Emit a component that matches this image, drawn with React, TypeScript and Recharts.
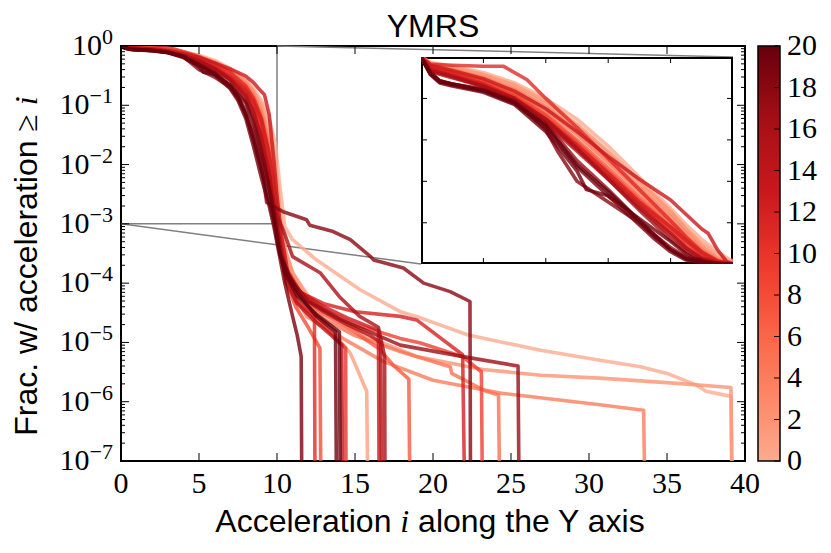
import React from 'react';
import { LineChart, Line, XAxis, YAxis, ReferenceArea, ReferenceLine } from 'recharts';

// ---------- layout ----------
const W = 831, H = 553;
const PL = 121, PR = 745, PT = 46, PB = 461;
const INSET = { left: 421, top: 57, width: 312, height: 207 };
const CBAR = { left: 758, top: 46, width: 22, height: 415 };

// ---------- ticks / labels ----------
const X_TICKS = [0, 5, 10, 15, 20, 25, 30, 35, 40];
const Y_EXPONENTS = [-7, -6, -5, -4, -3, -2, -1, 0];
const Y_MINOR_MULTS = [2, 3, 4, 5, 6, 7, 8, 9];
const CBAR_TICKS = [0, 2, 4, 6, 8, 10, 12, 14, 16, 18, 20];
const INSET_X_DOMAIN = [0, 10];
const INSET_Y_DOMAIN = [0.001, 1];
const INSET_X_TICKS = [2, 4, 6, 8];
const INSET_Y_TICKS = [0.2, 0.4, 0.6, 0.8];
const TITLE = 'YMRS';

// ---------- data: [acceleration, fraction] ----------
type P = [number, number];
const CURVE_VALUES = [0, 1, 2, 4, 5, 7, 8, 9, 10, 11, 12, 13, 14, 15, 16, 17, 18, 19, 19.5, 20];

const c00: P[] = [[0,1],[0.3,.975],[1,.955],[2,.925],[3,.875],[4,.80],[5,.70],[6,.57],[7,.42],[8,.27],[8.5,.19],[9,.12],[9.5,.06],[9.9,.022],[10.2,.004],[10.5,9e-4],[11,5.4e-4],[12.5,2.5e-4],[15.3,7.8e-5],[17.9,3.3e-5],[19.2,2.6e-5],[22.2,1.35e-5],[24.5,1e-5],[26.9,7.4e-6],[30.7,5e-6],[33.3,3.9e-6],[35,3e-6],[36.9,1.9e-6],[37.5,1.5e-6],[39.1,1.23e-6],[39.15,1e-7]];
const c01: P[] = [[0,1],[0.3,.97],[1,.945],[2,.91],[3,.855],[4,.775],[5,.665],[6,.535],[7,.39],[8,.25],[8.5,.17],[9,.10],[9.5,.045],[9.9,.012],[10.2,1.5e-3],[10.5,4e-4],[11,1.5e-4],[12,5e-5],[13,2e-5],[13.8,1.25e-5],[14.7,6.6e-6],[15.75,1.5e-6],[15.8,1e-7]];
const c02: P[] = [[0,1],[0.3,.97],[1,.95],[2,.915],[3,.865],[4,.785],[5,.675],[6,.545],[7,.40],[8,.255],[8.5,.17],[9,.09],[9.5,.03],[9.9,.006],[10.2,1e-3],[10.6,3e-4],[11,1.5e-4],[12,6e-5],[13.2,3.5e-5],[15.75,1.26e-5],[18.95,5.8e-6],[23.2,3.5e-6],[26.9,2.8e-6],[30.7,2.5e-6],[35,2.1e-6],[39.1,1.74e-6],[39.15,1e-7]];
const c04: P[] = [[0,1],[0.3,.965],[1,.94],[2,.90],[3,.845],[4,.76],[5,.645],[6,.51],[7,.37],[8,.23],[8.5,.15],[9,.075],[9.5,.025],[9.9,.004],[10.2,8e-4],[10.6,2e-4],[11.2,6e-5],[11.9,2.75e-5],[13.6,1.45e-5],[16.8,4.8e-6],[20,2.3e-6],[24.3,1.4e-6],[28.1,1.07e-6],[30.7,8.9e-7],[33.5,7.2e-7],[33.55,1e-7]];
const c05: P[] = [[0,1],[0.3,.96],[1,.935],[2,.89],[3,.83],[4,.745],[5,.625],[6,.49],[7,.35],[8,.21],[8.5,.135],[9,.065],[9.5,.02],[9.9,.003],[10.2,6e-4],[10.5,2e-4],[11.5,6e-5],[13,2.5e-5],[15,1.3e-5],[17.9,7e-6],[21.1,3.9e-6],[21.2,3e-6],[23.4,1.5e-6],[24.2,1.3e-6],[24.25,1e-7]];
const c07: P[] = [[0,1],[0.3,.955],[1,.93],[2,.885],[3,.82],[4,.725],[5,.60],[6,.465],[7,.325],[8,.195],[8.5,.125],[9,.06],[9.5,.017],[9.9,.003],[10.2,5e-4],[10.6,1.5e-4],[11.5,6e-5],[13,3e-5],[15,1.5e-5],[16.5,8e-6],[17.5,4e-6],[18.45,2.4e-6],[18.5,1e-7]];
const c08: P[] = [[0,1],[0.3,.95],[1,.925],[2,.88],[3,.815],[4,.72],[5,.59],[6,.45],[7,.31],[8,.18],[8.5,.11],[9,.05],[9.5,.012],[9.9,.002],[10.2,4e-4],[10.6,1e-4],[11.2,4e-5],[12,1.8e-5],[12.75,8e-6],[12.8,1e-7]];
const c09: P[] = [[0,1],[0.3,.95],[1,.92],[2,.875],[3,.81],[4,.71],[5,.58],[6,.44],[7,.30],[8,.175],[8.5,.11],[9,.05],[9.5,.013],[9.9,.0025],[10.2,5e-4],[10.5,2e-4],[11.5,7e-5],[13,3.5e-5],[15,2e-5],[17.9,1.17e-5],[19.2,9.8e-6],[21.9,5.75e-6],[23.1,3.2e-6],[23.15,1e-7]];
const c10: P[] = [[0,1],[0.3,.945],[1,.92],[2,.87],[3,.80],[4,.70],[5,.57],[6,.43],[7,.29],[8,.16],[8.5,.09],[9,.035],[9.5,.009],[9.9,.002],[10.2,4e-4],[10.6,1.2e-4],[11.3,5e-5],[12.5,2.5e-5],[13.5,1.4e-5],[14.4,8e-6],[14.42,1e-7]];
const c11: P[] = [[0,1],[0.3,.965],[1,.96],[2,.955],[2.65,.955],[3.4,.89],[4,.80],[5,.66],[6,.51],[7,.36],[8,.21],[8.5,.13],[9,.06],[9.5,.014],[9.9,.002],[10.2,4e-4],[10.6,1.2e-4],[11.2,5e-5],[12.4,2.7e-5],[12.43,1e-7]];
const c12: P[] = [[0,1],[0.3,.945],[1,.915],[2,.87],[3,.80],[4,.70],[5,.575],[6,.44],[7,.30],[8,.18],[8.5,.115],[9,.055],[9.5,.015],[9.9,.003],[10.2,6e-4],[10.5,1.5e-4],[11.5,7e-5],[13,4.5e-5],[15,3.3e-5],[17.9,2.75e-5],[18.95,2.4e-5],[21.9,6.2e-6],[22.0,1e-7]];
const c13: P[] = [[0,1],[0.3,.96],[1,.935],[2,.895],[3,.835],[4,.75],[5,.64],[6,.52],[7,.41],[8,.31],[8.5,.24],[9,.17],[9.2,.15],[9.5,.07],[9.8,.012],[10,.003],[10.3,6e-4],[10.7,1.5e-4],[11.5,7e-5],[13,4e-5],[14.5,2.6e-5],[16.5,1.6e-5],[16.54,1e-7]];
const c14: P[] = [[0,1],[0.3,.94],[1,.91],[2,.86],[3,.79],[4,.69],[5,.555],[6,.42],[7,.28],[8,.15],[8.5,.08],[9,.03],[9.5,.007],[9.9,.0015],[10.2,3.5e-4],[10.6,1e-4],[11.3,4.5e-5],[12.5,2.2e-5],[13.5,1.3e-5],[14.15,9e-6],[14.2,1e-7]];
const c15: P[] = [[0,1],[0.3,.935],[1,.905],[2,.855],[3,.785],[4,.68],[5,.545],[6,.41],[7,.27],[8,.14],[8.5,.075],[9,.028],[9.5,.007],[9.9,.0015],[10.2,4e-4],[10.6,1.3e-4],[11.5,6e-5],[13,3.3e-5],[14.5,2e-5],[16,1.3e-5],[16.65,1e-5],[16.7,1e-7]];
const c16: P[] = [[0,1],[0.3,.93],[1,.90],[2,.86],[3,.80],[4,.70],[5,.56],[6,.41],[7,.26],[8,.12],[8.5,.06],[9,.02],[9.5,.005],[9.8,.0018],[10.4,7.9e-4],[11,2.8e-4],[12.76,1.5e-4],[14,5.9e-5],[15.3,2.75e-5],[16.5,1.8e-5],[16.9,5.8e-6],[16.92,1e-7]];
const c17: P[] = [[0,1],[0.3,.92],[0.6,.88],[1,.87],[2,.845],[3,.79],[4,.68],[5,.50],[6,.36],[7,.21],[7.5,.14],[8,.08],[8.5,.035],[9,.012],[9.5,.004],[9.9,1.2e-3],[10.3,3e-4],[10.8,1.2e-4],[12,5e-5],[14,2.5e-5],[17.9,9e-6],[22.2,5.6e-6],[25.45,4e-6],[25.5,1e-7]];
const c18: P[] = [[0,1],[0.3,.93],[0.6,.885],[1,.87],[2,.84],[3,.785],[4,.65],[4.4,.54],[5,.40],[6,.30],[7,.20],[7.5,.13],[8,.07],[8.5,.03],[9,.01],[9.34,2.3e-3],[10.4,1.6e-3],[11.9,1.17e-3],[12.1,9.5e-4],[13.6,7.4e-4],[14.7,5.4e-4],[16,2.8e-4],[16.2,2.45e-4],[18.1,1.8e-4],[19.4,1e-4],[21.1,7.2e-5],[22.37,4.9e-5],[22.4,1e-7]];
const c19: P[] = [[0,1],[0.3,.92],[0.6,.88],[1,.865],[2,.835],[3,.775],[4,.66],[5,.47],[6,.33],[7,.19],[7.5,.12],[8,.06],[8.5,.02],[9,.006],[9.5,.002],[9.8,9e-4],[10.1,3.5e-4],[10.5,1e-4],[11,2.75e-5],[11.3,1.3e-5],[11.55,5.8e-6],[11.58,1e-7]];
const c19b: P[] = [[0,1],[0.3,.915],[0.6,.875],[1,.86],[2,.83],[3,.77],[4,.64],[5,.45],[5.3,.36],[6,.33],[7,.22],[8,.11],[8.5,.05],[8.75,.03],[9.2,.01],[9.6,3e-3],[9.9,1e-3],[10.2,3e-4],[10.8,1.3e-4],[11.5,6e-5],[12.5,2.8e-5],[13.75,1.5e-5],[13.8,1e-7]];
const c20: P[] = [[0,1],[0.3,.92],[0.6,.885],[1,.87],[2,.84],[3,.78],[4,.67],[5,.48],[6,.35],[7,.21],[7.5,.14],[8,.07],[8.5,.025],[9,.008],[9.5,.0025],[9.8,1.1e-3],[10.1,4e-4],[10.5,1.5e-4],[11.3,6e-5],[12.5,3e-5],[14,1.5e-5],[14.04,1e-7]];

const CURVES: P[][] = [c00, c01, c02, c04, c05, c07, c08, c09, c10, c11, c12, c13, c14, c15, c16, c17, c18, c19, c19b, c20];

// ---------- colour map (matplotlib Reds, truncated) ----------
const REDS = ['#fff5f0', '#fee0d2', '#fcbba1', '#fc9272', '#fb6a4a', '#ef3b2c', '#cb181d', '#a50f15', '#67000d'];
const hex = (h: string) => [1, 3, 5].map((i) => parseInt(h.slice(i, i + 2), 16));
function reds(t: number): string {
  const s = Math.max(0, Math.min(1, t)) * (REDS.length - 1);
  const i = Math.min(REDS.length - 2, Math.floor(s));
  const f = s - i;
  const a = hex(REDS[i]), b = hex(REDS[i + 1]);
  const c = a.map((v, k) => Math.round(v + (b[k] - v) * f));
  return `rgb(${c[0]},${c[1]},${c[2]})`;
}
const colorOf = (v: number) => reds(0.3 + 0.7 * (v / 20));

// ---------- helpers ----------
const SERIF = '"Liberation Serif", "DejaVu Serif", serif';
const SANS = '"Liberation Sans", Arial, sans-serif';
const LINE_W = 3.6;
const LINE_OP = 0.8;
const Y_TICKS: number[] = [];
Y_EXPONENTS.forEach((e) => {
  Y_TICKS.push(Math.pow(10, e));
  if (e < 0) Y_MINOR_MULTS.forEach((m) => Y_TICKS.push(m * Math.pow(10, e)));
});
const toDataX = (px: number) => ((px - PL) / (PR - PL)) * 40;
const toDataY = (py: number) => Math.pow(10, -7 * (py - PT) / (PB - PT));
const mainSeries = CURVES.map((c) => c.map(([x, y]) => ({ x, y })));
const insetSeries = CURVES.map((c) => {
  const idx = c.findIndex(([x]) => x > INSET_X_DOMAIN[1]);
  return c.slice(0, idx < 0 ? c.length : idx + 1).map(([x, y]) => ({ x, y }));
});
const IN_TICK = 6;
const inDX = (IN_TICK * (INSET_X_DOMAIN[1] - INSET_X_DOMAIN[0])) / INSET.width;
const inDY = (IN_TICK * (INSET_Y_DOMAIN[1] - INSET_Y_DOMAIN[0])) / INSET.height;

const XTick = (props: any) => {
  const x = props.payload?.coordinate ?? props.x;
  return (
    <g>
      <line x1={x} x2={x} y1={PB} y2={PB - 8} stroke="#000" strokeWidth={1} />
      <line x1={x} x2={x} y1={PT} y2={PT + 8} stroke="#000" strokeWidth={1} />
      <text x={x} y={493} textAnchor="middle" fontFamily={SERIF} fontSize={30} fill="#000">
        {props.payload.value}
      </text>
    </g>
  );
};

const YTick = (props: any) => {
  const v = props.payload.value;
  const y = props.payload?.coordinate ?? props.y;
  const lg = Math.log10(v);
  const e = Math.round(lg);
  const major = Math.abs(lg - e) < 1e-6;
  const len = major ? 8 : 4;
  return (
    <g>
      <line x1={PL} x2={PL + len} y1={y} y2={y} stroke="#000" strokeWidth={1} />
      <line x1={PR - len} x2={PR} y1={y} y2={y} stroke="#000" strokeWidth={1} />
      {major && (
        <text x={113} y={y + 9} textAnchor="end" fontFamily={SERIF} fontSize={30} fill="#000">
          <tspan>10</tspan>
          <tspan dy={-11} fontSize={22}>{e < 0 ? `\u2212${-e}` : `${e}`}</tspan>
        </text>
      )}
    </g>
  );
};

export default function App() {
  const stops = Array.from({ length: 21 }, (_, k) => k);
  const [ix0, ix1] = INSET_X_DOMAIN;
  const [iy0, iy1] = INSET_Y_DOMAIN;
  return (
    <div style={{ position: 'absolute', left: 0, top: 0, width: W, height: H, background: '#fff' }}>
      <LineChart width={W} height={H} margin={{ top: PT, right: W - PR, bottom: 0, left: 0 }}>
        <XAxis type="number" dataKey="x" domain={[0, 40]} ticks={X_TICKS} interval={0} height={H - PB}
          tick={XTick} tickLine={false} axisLine={false} allowDataOverflow />
        <YAxis type="number" scale="log" domain={[1e-7, 1]} ticks={Y_TICKS} interval={0} width={PL}
          tick={YTick} tickLine={false} axisLine={false} allowDataOverflow />
        <ReferenceArea x1={0} x2={10} y1={1e-3} y2={1} fill="none" stroke="#808080" strokeWidth={1.5} />
        <ReferenceLine segment={[{ x: 10, y: 1 }, { x: toDataX(INSET.left + INSET.width), y: toDataY(INSET.top) }]}
          stroke="#808080" strokeWidth={1.5} />
        <ReferenceLine segment={[{ x: 0, y: 1e-3 }, { x: toDataX(INSET.left), y: toDataY(INSET.top + INSET.height) }]}
          stroke="#808080" strokeWidth={1.5} />
        {mainSeries.map((d, i) => (
          <Line key={i} data={d} dataKey="y" type="linear" dot={false} isAnimationActive={false}
            stroke={colorOf(CURVE_VALUES[i])} strokeOpacity={LINE_OP} strokeWidth={LINE_W} strokeLinejoin="round" />
        ))}
        <ReferenceArea x1={0} x2={40} y1={1e-7} y2={1} fill="none" stroke="#000" strokeWidth={2} />
      </LineChart>

      <div style={{ position: 'absolute', left: INSET.left, top: INSET.top, width: INSET.width, height: INSET.height, background: '#fff' }}>
        <LineChart width={INSET.width} height={INSET.height} margin={{ top: 0, right: 0, bottom: 0, left: 0 }}>
          <XAxis type="number" dataKey="x" domain={INSET_X_DOMAIN} hide allowDataOverflow />
          <YAxis type="number" domain={INSET_Y_DOMAIN} hide allowDataOverflow />
          {insetSeries.map((d, i) => (
            <Line key={i} data={d} dataKey="y" type="linear" dot={false} isAnimationActive={false}
              stroke={colorOf(CURVE_VALUES[i])} strokeOpacity={LINE_OP} strokeWidth={LINE_W} strokeLinejoin="round" />
          ))}
          {INSET_X_TICKS.map((t) => (
            <ReferenceLine key={`xb${t}`} segment={[{ x: t, y: iy0 }, { x: t, y: iy0 + inDY }]} stroke="#000" strokeWidth={1} />
          ))}
          {INSET_X_TICKS.map((t) => (
            <ReferenceLine key={`xt${t}`} segment={[{ x: t, y: iy1 }, { x: t, y: iy1 - inDY }]} stroke="#000" strokeWidth={1} />
          ))}
          {INSET_Y_TICKS.map((t) => (
            <ReferenceLine key={`yl${t}`} segment={[{ x: ix0, y: t }, { x: ix0 + inDX, y: t }]} stroke="#000" strokeWidth={1} />
          ))}
          {INSET_Y_TICKS.map((t) => (
            <ReferenceLine key={`yr${t}`} segment={[{ x: ix1, y: t }, { x: ix1 - inDX, y: t }]} stroke="#000" strokeWidth={1} />
          ))}
          <ReferenceArea x1={ix0} x2={ix1} y1={iy0} y2={iy1} fill="none" stroke="#000" strokeWidth={4} />
        </LineChart>
      </div>

      <svg width={W} height={H} style={{ position: 'absolute', left: 0, top: 0, pointerEvents: 'none' }}>
        <defs>
          <linearGradient id="cbar" x1="0" y1="1" x2="0" y2="0">
            {stops.map((k) => (
              <stop key={k} offset={`${(k / 20) * 100}%`} stopColor={colorOf(k)} />
            ))}
          </linearGradient>
        </defs>
        <text x={433} y={37} textAnchor="middle" fontFamily={SANS} fontSize={32} fill="#000">{TITLE}</text>
        <text x={430} y={532} textAnchor="middle" fontFamily={SANS} fontSize={32} fill="#000">
          Acceleration <tspan fontFamily={SERIF} fontStyle="italic">i</tspan> along the Y axis
        </text>
        <text x={37} y={266} textAnchor="middle" fontFamily={SANS} fontSize={32} fill="#000"
          transform="rotate(-90 37 266)">
          Frac. w/ acceleration <tspan fontFamily={SERIF}>≥</tspan> <tspan fontFamily={SERIF} fontStyle="italic">i</tspan>
        </text>
        <rect x={CBAR.left} y={CBAR.top} width={CBAR.width} height={CBAR.height} fill="url(#cbar)" stroke="#000" strokeWidth={1.5} />
        {CBAR_TICKS.map((t) => {
          const y = CBAR.top + CBAR.height * (1 - t / 20);
          return (
            <g key={t}>
              <line x1={CBAR.left + CBAR.width - 6} x2={CBAR.left + CBAR.width} y1={y} y2={y} stroke="#000" strokeWidth={1} />
              <text x={787} y={y + 9} fontFamily={SERIF} fontSize={30} fill="#000">{t}</text>
            </g>
          );
        })}
      </svg>
    </div>
  );
}
